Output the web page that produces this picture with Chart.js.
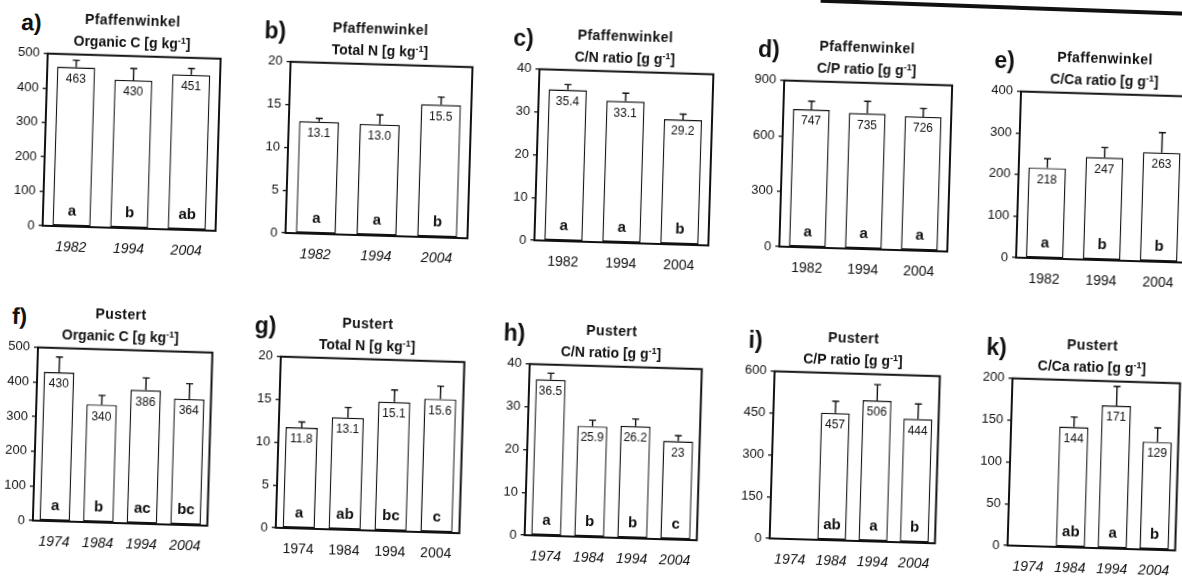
<!DOCTYPE html>
<html>
<head>
<meta charset="utf-8">
<script src="https://cdn.jsdelivr.net/npm/chart.js@4.4.1/dist/chart.umd.min.js"></script>
<style>
  html, body { margin: 0; padding: 0; background: #fff; width: 1182px; height: 577px; overflow: hidden; }
  #sheet { position: absolute; left: 0; top: 0; width: 1182px; height: 577px;
           transform: rotate(1.7deg); transform-origin: 591px 288px; }
  .panel { position: absolute; }
  .panel canvas { position: absolute; left: 0; top: 0; }
  .tag { position: absolute; font: bold 23px "Liberation Sans", Arial, sans-serif; color: #111; line-height: 26px; }
  .ttl { position: absolute; text-align: center; font-family: "Liberation Sans", Arial, sans-serif;
         font-weight: bold; font-size: 14px; color: #111; white-space: nowrap; line-height: 22px; }
  .ttl .site { letter-spacing: 0.4px; }
  .ttl sup { font-size: 9px; vertical-align: 5px; line-height: 0; }
  .edge { position: absolute; left: 812px; top: -8px; width: 520px; height: 3.5px; background: #111;
          transform: rotate(0.35deg); transform-origin: 0 0; }
</style>
</head>
<body>
<div id="sheet"><div class="edge"></div></div>
<script>
// Sampling years
const yearsPf = ['1982', '1994', '2004'];
const yearsPu = ['1974', '1984', '1994', '2004'];

// Pfaffenwinkel: means, error (upper bar) and significance letters
const pfOrgC = ['463', '430', '451'];
const pfOrgCErr = [20, 34, 18];
const pfOrgCSig = ['a', 'b', 'ab'];

const pfTotN = ['13.1', '13.0', '15.5'];
const pfTotNErr = [0.4, 1.1, 0.9];
const pfTotNSig = ['a', 'a', 'b'];

const pfCN = ['35.4', '33.1', '29.2'];
const pfCNErr = [1.2, 1.9, 1.3];
const pfCNSig = ['a', 'a', 'b'];

const pfCP = ['747', '735', '726'];
const pfCPErr = [45, 65, 45];
const pfCPSig = ['a', 'a', 'a'];

const pfCCa = ['218', '247', '263'];
const pfCCaErr = [22, 24, 48];
const pfCCaSig = ['a', 'b', 'b'];

// Pustert
const puOrgC = ['430', '340', '386', '364'];
const puOrgCErr = [44, 27, 35, 44];
const puOrgCSig = ['a', 'b', 'ac', 'bc'];

const puTotN = ['11.8', '13.1', '15.1', '15.6'];
const puTotNErr = [0.65, 1.2, 1.4, 1.5];
const puTotNSig = ['a', 'ab', 'bc', 'c'];

const puCN = ['36.5', '25.9', '26.2', '23'];
const puCNErr = [1.5, 1.4, 1.7, 1.3];
const puCNSig = ['a', 'b', 'b', 'c'];

const puCP = [null, '457', '506', '444'];
const puCPErr = [null, 42, 57, 54];
const puCPSig = ['', 'ab', 'a', 'b'];

const puCCa = [null, '144', '171', '129'];
const puCCaErr = [null, 12, 23, 17];
const puCCaSig = ['', 'ab', 'a', 'b'];

// Y-axis ranges
const yMax  = [500, 20, 40, 900, 400, 500, 20, 40, 600, 200];
const yStep = [100, 5, 10, 300, 100, 100, 5, 10, 150, 50];

const FONT = '"Liberation Sans", Arial, sans-serif';
const L = 50, R = 6, T = 10, B = 34;

const panels = [
  { tag: 'a)', site: 'Pfaffenwinkel', unit: ['Organic C [g kg', '-1', ']'], cats: yearsPf, vals: pfOrgC, err: pfOrgCErr, sig: pfOrgCSig, it: true },
  { tag: 'b)', site: 'Pfaffenwinkel', unit: ['Total N [g kg', '-1', ']'], cats: yearsPf, vals: pfTotN, err: pfTotNErr, sig: pfTotNSig, it: true },
  { tag: 'c)', site: 'Pfaffenwinkel', unit: ['C/N ratio [g g', '-1', ']'], cats: yearsPf, vals: pfCN, err: pfCNErr, sig: pfCNSig, it: false },
  { tag: 'd)', site: 'Pfaffenwinkel', unit: ['C/P ratio [g g', '-1', ']'], cats: yearsPf, vals: pfCP, err: pfCPErr, sig: pfCPSig, it: false },
  { tag: 'e)', site: 'Pfaffenwinkel', unit: ['C/Ca ratio [g g', '-1', ']'], cats: yearsPf, vals: pfCCa, err: pfCCaErr, sig: pfCCaSig, it: false },
  { tag: 'f)', site: 'Pustert', unit: ['Organic C [g kg', '-1', ']'], cats: yearsPu, vals: puOrgC, err: puOrgCErr, sig: puOrgCSig, it: true },
  { tag: 'g)', site: 'Pustert', unit: ['Total N [g kg', '-1', ']'], cats: yearsPu, vals: puTotN, err: puTotNErr, sig: puTotNSig, it: false },
  { tag: 'h)', site: 'Pustert', unit: ['C/N ratio [g g', '-1', ']'], cats: yearsPu, vals: puCN, err: puCNErr, sig: puCNSig, it: true },
  { tag: 'i)', site: 'Pustert', unit: ['C/P ratio [g g', '-1', ']'], cats: yearsPu, vals: puCP, err: puCPErr, sig: puCPSig, it: true },
  { tag: 'k)', site: 'Pustert', unit: ['C/Ca ratio [g g', '-1', ']'], cats: yearsPu, vals: puCCa, err: puCCaErr, sig: puCCaSig, it: true }
];

// Plot-area frames: centre x, centre y, width, height, title shift
const frames = [
  [127, 155, 173, 174, -2], [375, 155, 182, 173, -2], [620, 155, 174, 173, -2],
  [862, 157, 168, 168, -2], [1100, 161, 171, 168, -2],
  [128, 449, 176, 175, -6], [375, 450, 184, 173, -6], [619, 450, 174, 173, -6],
  [861, 448, 168, 169, -6], [1100, 448, 170, 169, -6]
];

function decorFor(p) {
  return {
    id: 'decor',
    afterDatasetsDraw(chart) {
      const ctx = chart.ctx;
      const ys = chart.scales.y;
      const area = chart.chartArea;
      const meta = chart.getDatasetMeta(0);
      ctx.save();
      ctx.strokeStyle = '#111';
      ctx.fillStyle = '#111';
      meta.data.forEach((bar, i) => {
        if (p.vals[i] === null) return;
        const v = Number(p.vals[i]);
        const x = bar.x, top = bar.y;
        const eTop = ys.getPixelForValue(v + p.err[i]);
        // error bar
        ctx.lineWidth = 1.4;
        ctx.beginPath();
        ctx.moveTo(x, top); ctx.lineTo(x, eTop);
        ctx.moveTo(x - 3.5, eTop); ctx.lineTo(x + 3.5, eTop);
        ctx.stroke();
        // mean value
        ctx.textAlign = 'center';
        ctx.textBaseline = 'middle';
        ctx.font = '12px ' + FONT;
        ctx.fillText(p.vals[i], x, top + 12);
        // significance letters
        ctx.font = 'bold 15px ' + FONT;
        ctx.fillText(p.sig[i], x, area.bottom - 15);
      });
      // frame
      ctx.lineWidth = 2;
      ctx.strokeRect(area.left, area.top, area.right - area.left, area.bottom - area.top);
      ctx.restore();
    }
  };
}

const sheet = document.getElementById('sheet');
panels.forEach((p, k) => {
  const [cx, cy, w, h, dx] = frames[k];
  const div = document.createElement('div');
  div.className = 'panel';
  div.style.left = (cx - w / 2 - L) + 'px';
  div.style.top = (cy - h / 2 - T) + 'px';
  div.style.width = (w + L + R) + 'px';
  div.style.height = (h + T + B) + 'px';

  const cv = document.createElement('canvas');
  cv.width = w + L + R;
  cv.height = h + T + B;
  div.appendChild(cv);

  const tag = document.createElement('div');
  tag.className = 'tag';
  tag.textContent = p.tag;
  tag.style.left = (L - 27) + 'px';
  tag.style.top = (T - 42) + 'px';
  div.appendChild(tag);

  const ttl = document.createElement('div');
  ttl.className = 'ttl';
  ttl.style.left = (L + dx) + 'px';
  ttl.style.width = w + 'px';
  ttl.style.top = (T - 45) + 'px';
  const l1 = document.createElement('div');
  l1.className = 'site';
  l1.textContent = p.site;
  const l2 = document.createElement('div');
  l2.appendChild(document.createTextNode(p.unit[0]));
  const sup = document.createElement('sup');
  sup.textContent = p.unit[1];
  l2.appendChild(sup);
  l2.appendChild(document.createTextNode(p.unit[2]));
  ttl.appendChild(l1);
  ttl.appendChild(l2);
  div.appendChild(ttl);

  sheet.appendChild(div);

  new Chart(cv, {
    type: 'bar',
    data: {
      labels: p.cats,
      datasets: [{
        data: p.vals.map(v => v === null ? null : Number(v)),
        backgroundColor: '#fff',
        borderColor: '#111',
        borderWidth: 1.4,
        borderSkipped: false,
        barPercentage: p.cats.length === 3 ? 0.66 : 0.7,
        categoryPercentage: 1
      }]
    },
    options: {
      responsive: false,
      animation: false,
      events: [],
      layout: { padding: { left: 0, right: R, top: T, bottom: 0 }, autoPadding: false },
      plugins: { legend: { display: false }, tooltip: { enabled: false }, title: { display: false } },
      scales: {
        x: {
          grid: { display: false, drawTicks: false },
          border: { display: false },
          ticks: { color: '#111', padding: 13, maxRotation: 0, autoSkip: false,
                   font: { family: FONT, size: 14, style: p.it ? 'italic' : 'normal' } },
          afterFit(s) { s.height = B; }
        },
        y: {
          min: 0, max: yMax[k],
          grid: { display: true, drawOnChartArea: false, drawTicks: true, tickLength: 4, color: '#111', lineWidth: 1.3 },
          border: { display: false },
          ticks: { stepSize: yStep[k], color: '#111', padding: 4, font: { family: FONT, size: 13 } },
          afterFit(s) { s.width = L; }
        }
      }
    },
    plugins: [decorFor(p)]
  });
});
</script>
</body>
</html>
